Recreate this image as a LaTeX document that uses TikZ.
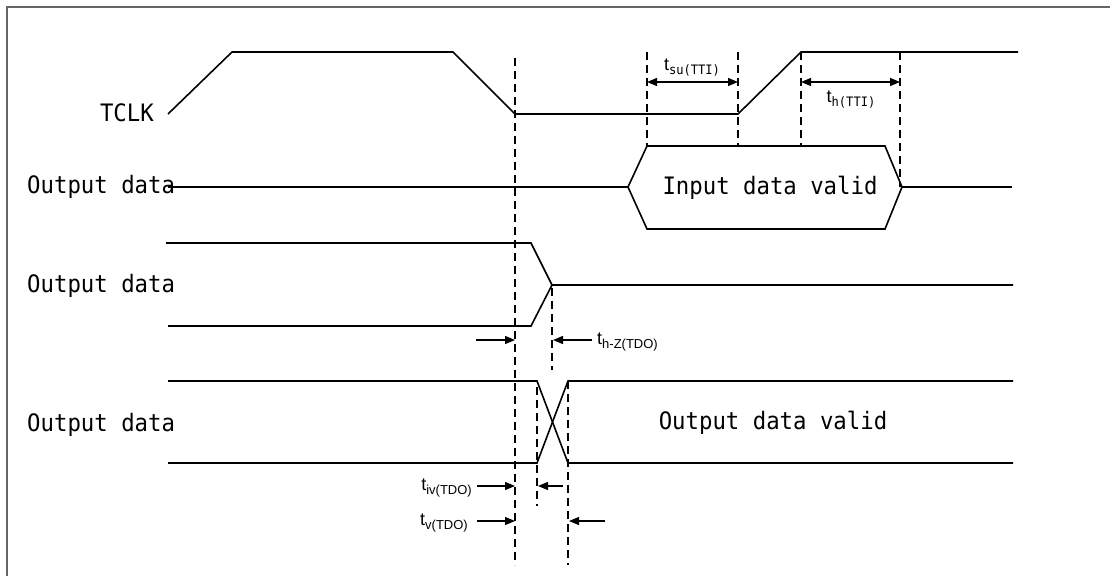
\documentclass[tikz,border=0pt]{standalone}
\usepackage{fontspec}
\setmainfont{Liberation Sans}
\newfontfamily\sigfont[FakeStretch=0.93]{DejaVu Sans Mono}
\usetikzlibrary{arrows.meta, positioning}

\begin{document}
\begin{tikzpicture}[x=1pt, y=-1pt,
    sig/.style={line width=1.6pt},
    guide/.style={line width=1.2pt, dash pattern=on 8pt off 5pt},
    meas/.style={line width=1.3pt, -{Triangle[length=10pt,width=8pt]}},
    twoway/.style={line width=1.3pt, {Triangle[length=10pt,width=8pt]}-{Triangle[length=10pt,width=8pt]}},
    lbl/.style={font=\sigfont\fontsize{24}{24}\selectfont, inner sep=0pt},
    tm/.style={font=\fontsize{18}{18}\selectfont, inner sep=0pt}]
  \useasboundingbox (0,0) rectangle (1110,576);
  % frame (only top and left edges inside the picture)
  \draw[black!60, line width=1.5pt] (7,576) -- (7,7) -- (1110,7);

  % signal names
  \node[lbl, anchor=east] (tclk) at (154,113) {TCLK};
  \node[lbl, anchor=west] (din) at (27,187) {Output data};
  \node[lbl, anchor=west] (dhz) at (27,286) {Output data};
  \node[lbl, anchor=west] (dout) at (27,425) {Output data};

  % TCLK
  \coordinate (fall) at (515,114);
  \coordinate (rise0) at (738,114);
  \coordinate (rise1) at (801,52);
  \draw[sig] (168,114) -- (232,52) -- (453,52) -- (fall) -- (rise0) -- (rise1) -- (1018,52);

  % input data window
  \node[lbl] (valid) at (770,188) {Input data valid};
  \draw[sig] (628,187) -- (647,146) -- (885,146) -- (902,187) -- (885,229) -- (647,229) -- cycle;
  \draw[sig] (168,187) -- (628,187);
  \draw[sig] (902,187) -- (1012,187);

  % output going to high-Z
  \draw[sig] (166,243) -- (531,243) -- (552,285) -- (1013,285);
  \draw[sig] (168,326) -- (531,326) -- (552,285);

  % output data valid
  \draw[sig] (168,381) -- (537,381) -- (568,463) -- (1013,463);
  \draw[sig] (168,463) -- (537,463) -- (568,381) -- (1013,381);
  \node[lbl] (ovalid) at (773,423) {Output data valid};

  % vertical dashed guides
  \draw[guide] (515,58) -- (515,565);
  \draw[guide] (647,52) -- (647,146);
  \draw[guide] (738,52) -- (738,146);
  \draw[guide] (801,52) -- (801,146);
  \draw[guide] (900,52) -- (900,187);
  \draw[guide] (552,288) -- (552,370);
  \draw[guide] (537,387) -- (537,506);
  \draw[guide] (568,381) -- (568,565);

  % setup and hold
  \coordinate (su0) at (647,82);
  \coordinate (su1) at (738,82);
  \coordinate (h0) at (801,82);
  \coordinate (h1) at (900,82);
  \draw[twoway] (su0) -- (su1);
  \draw[twoway] (h0) -- (h1);
  \node[tm] (tsu) at (692,68) {t\raisebox{-4pt}{\sigfont\fontsize{13}{13}\selectfont su(TTI)}};
  \node[tm] (th) at (851,100) {t\raisebox{-4pt}{\sigfont\fontsize{13}{13}\selectfont h(TTI)}};

  % high-Z time
  \coordinate (hz0) at (476,340);
  \coordinate (hz1) at (515,340);
  \coordinate (hz2) at (592,340);
  \coordinate (hz3) at (553,340);
  \draw[meas] (hz0) -- (hz1);
  \draw[meas] (hz2) -- (hz3);
  \node[tm, anchor=west] (thz) at (597,342) {t\raisebox{-4pt}{\fontsize{13}{13}\selectfont h-Z(TDO)}};

  % invalid and valid times
  \coordinate (iv0) at (477,486);
  \coordinate (iv1) at (515,486);
  \coordinate (iv2) at (563,486);
  \coordinate (iv3) at (538,486);
  \draw[meas] (iv0) -- (iv1);
  \draw[meas] (iv2) -- (iv3);
  \node[tm, anchor=east] (tiv) at (472,488) {t\raisebox{-4pt}{\fontsize{13}{13}\selectfont iv(TDO)}};
  \coordinate (v0) at (477,521);
  \coordinate (v1) at (515,521);
  \coordinate (v2) at (605,521);
  \coordinate (v3) at (569,521);
  \draw[meas] (v0) -- (v1);
  \draw[meas] (v2) -- (v3);
  \node[tm, anchor=east] (tv) at (468,523) {t\raisebox{-4pt}{\fontsize{13}{13}\selectfont v(TDO)}};
\end{tikzpicture}
\end{document}
